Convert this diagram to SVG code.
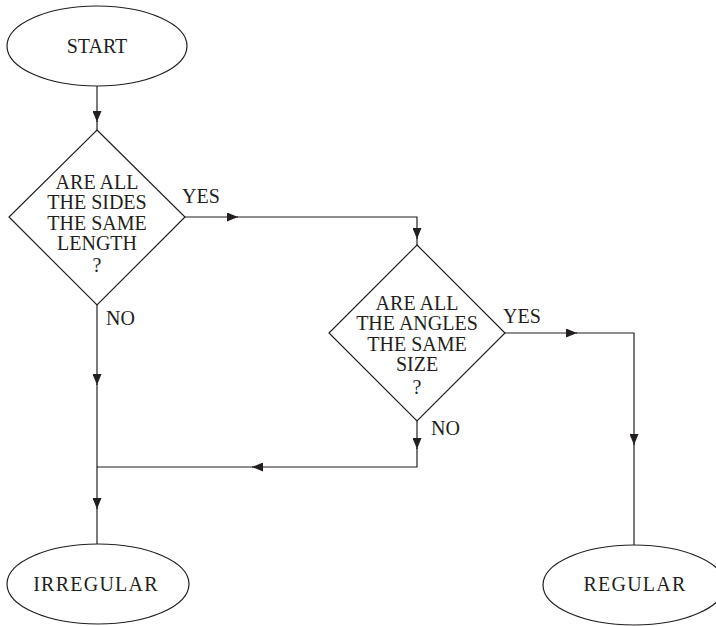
<svg xmlns="http://www.w3.org/2000/svg" width="716" height="626" viewBox="0 0 716 626">
  <style>
    .shape { fill: #ffffff; stroke: #231f20; stroke-width: 1.2; }
    .line { fill: none; stroke: #231f20; stroke-width: 1.2; }
    .lbl { font-family: "Liberation Serif", "Times New Roman", serif; font-size: 20px; fill: #231f20; text-anchor: middle; }
    .wide { letter-spacing: 1.25px; }
    .tag { font-family: "Liberation Serif", "Times New Roman", serif; font-size: 20px; fill: #231f20; }
  </style>
  <defs>
    <marker id="arrow" viewBox="0 0 11 9" refX="11" refY="4.5" markerWidth="11" markerHeight="9" markerUnits="userSpaceOnUse" orient="auto">
      <path d="M0,0 L11,4.5 L0,9 Z" fill="#231f20"/>
    </marker>
  </defs>

  <rect width="716" height="626" fill="#ffffff"/>

  <!-- connectors -->
  <g id="connectors">
    <!-- start to first decision -->
    <path class="line" d="M97,86 V122" marker-end="url(#arrow)"/>
    <path class="line" d="M97,121 V130"/>
    <!-- sides equal: yes -->
    <path class="line" d="M185,217 H238" marker-end="url(#arrow)"/>
    <path class="line" d="M237,217 H417 V239" marker-end="url(#arrow)"/>
    <path class="line" d="M417,238 V245"/>
    <!-- angles equal: yes -->
    <path class="line" d="M505,333 H577" marker-end="url(#arrow)"/>
    <path class="line" d="M576,333 H634 V445" marker-end="url(#arrow)"/>
    <path class="line" d="M634,444 V545"/>
    <!-- sides equal: no -->
    <path class="line" d="M97,305 V385" marker-end="url(#arrow)"/>
    <path class="line" d="M97,384 V509" marker-end="url(#arrow)"/>
    <path class="line" d="M97,508 V544"/>
    <!-- angles equal: no -->
    <path class="line" d="M417,421 V449" marker-end="url(#arrow)"/>
    <path class="line" d="M417,448 V467 H252" marker-end="url(#arrow)"/>
    <path class="line" d="M253,467 H97"/>
    <!-- branch labels -->
    <text class="tag" x="182" y="203">YES</text>
    <text class="tag" x="106" y="325">NO</text>
    <text class="tag" x="503" y="323">YES</text>
    <text class="tag" x="431" y="435">NO</text>
  </g>

  <g id="start">
    <ellipse class="shape" cx="97" cy="46" rx="90" ry="40"/>
    <text class="lbl" x="97" y="53">START</text>
  </g>

  <g id="sides-same">
    <polygon class="shape" points="97,130 185,217 97,305 9,217"/>
    <text class="lbl" x="97" y="189">ARE ALL</text>
    <text class="lbl" x="97" y="209">THE SIDES</text>
    <text class="lbl" x="97" y="230">THE SAME</text>
    <text class="lbl" x="97" y="250">LENGTH</text>
    <text class="lbl" x="97" y="272">?</text>
  </g>

  <g id="angles-same">
    <polygon class="shape" points="417,245 505,333 417,421 329,333"/>
    <text class="lbl" x="417" y="310">ARE ALL</text>
    <text class="lbl" x="417" y="330">THE ANGLES</text>
    <text class="lbl" x="417" y="351">THE SAME</text>
    <text class="lbl" x="417" y="371">SIZE</text>
    <text class="lbl" x="417" y="394">?</text>
  </g>

  <g id="irregular">
    <ellipse class="shape" cx="98" cy="584" rx="91" ry="40"/>
    <text class="lbl wide" x="96" y="591">IRREGULAR</text>
  </g>

  <g id="regular">
    <ellipse class="shape" cx="634" cy="585" rx="91" ry="40"/>
    <text class="lbl wide" x="635" y="591">REGULAR</text>
  </g>
</svg>
